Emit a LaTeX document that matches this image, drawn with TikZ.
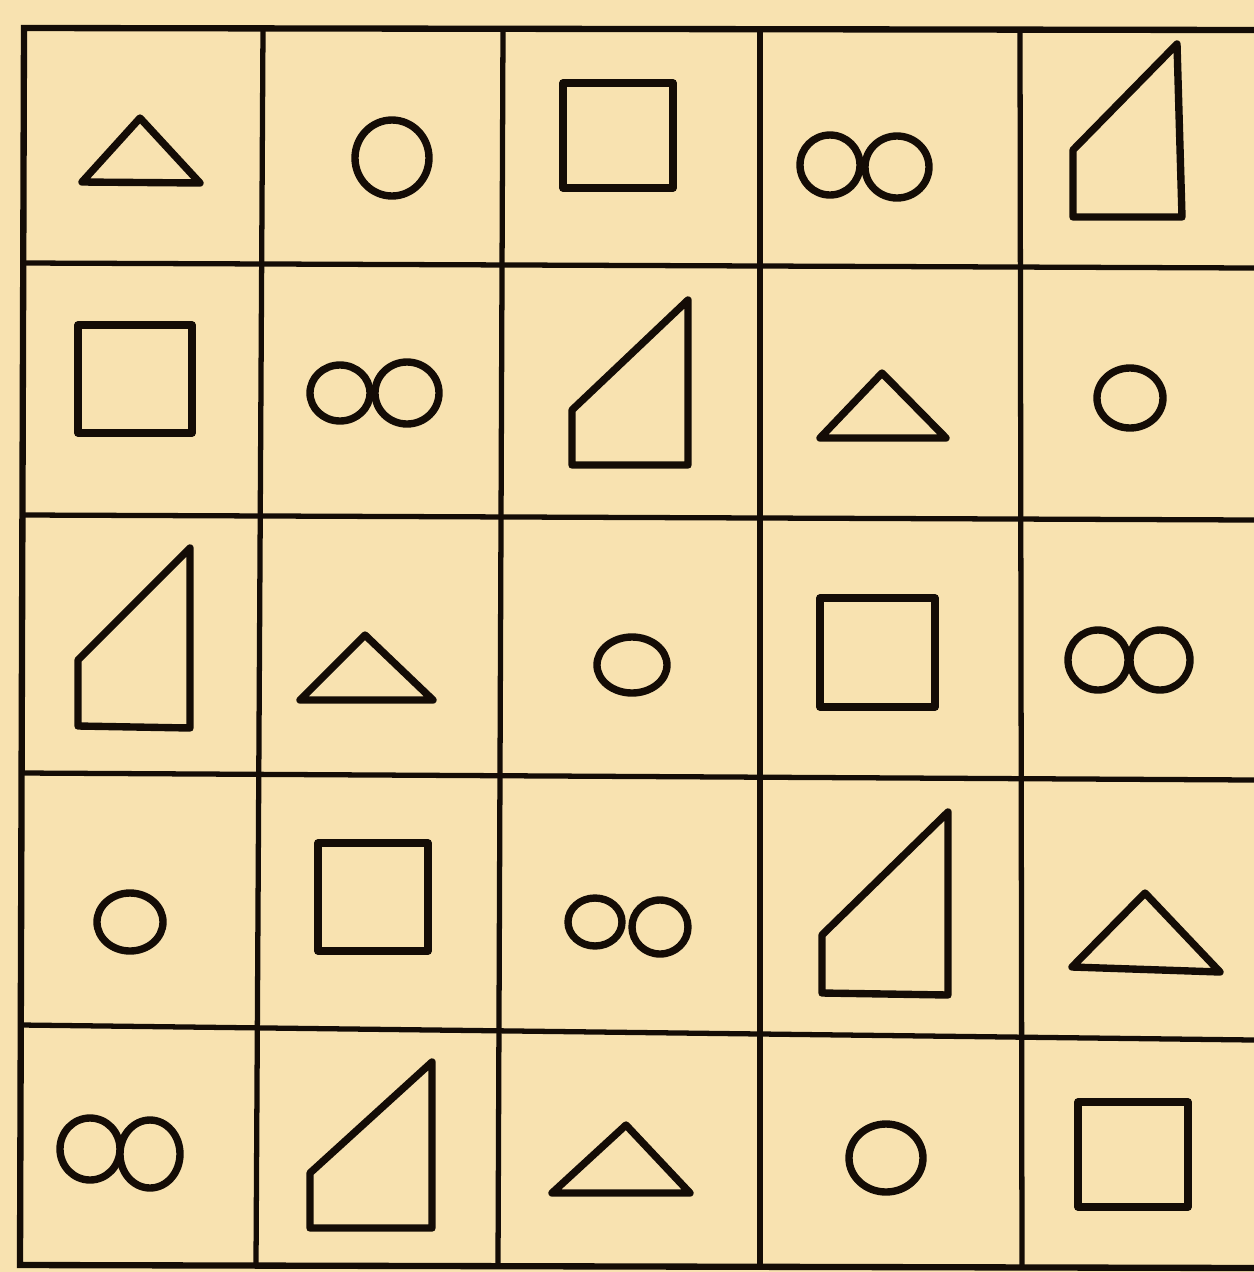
\documentclass[tikz,border=0pt]{standalone}
\usepackage{xcolor}
\definecolor{paper}{RGB}{248,226,176}
\definecolor{ink}{RGB}{20,12,6}
\tikzset{
  gridline/.style={ink, line width=3pt},
  figline/.style={ink, line width=4.2pt, line join=round, line cap=round}
}
\begin{document}
\begin{tikzpicture}[x=0.02cm, y=-0.02cm]
  % paper and grid
  \fill[paper] (0,0) rectangle (1254,1272);
  \useasboundingbox (0,0) rectangle (1254,1272);
  \draw[gridline, line width=3.6pt] (1254,30) -- (24,28) -- (20,1265) -- (1254,1268);
  \draw[gridline] (24,263) -- (1254,268);
  \draw[gridline] (24,515) -- (1254,520);
  \draw[gridline] (22,773) -- (1254,780);
  \draw[gridline] (21,1025) -- (1254,1040);
  \draw[gridline] (263,28) -- (256,1265);
  \draw[gridline] (503,28) -- (498,1265);
  \draw[gridline] (760,28) -- (760,1265);
  \draw[gridline] (1020,29) -- (1022,1266);
  % row 1
  \draw[figline] (140,118) -- (200,183) -- (82,182) -- cycle;
  \draw[figline] (392,158) ellipse (37 and 38);
  \draw[figline] (563,83) rectangle (673,188);
  \draw[figline] (830,165) ellipse (30 and 30);
  \draw[figline] (897,167) ellipse (32 and 31);
  \draw[figline] (1073,150) -- (1177,44) -- (1182,217) -- (1073,217) -- cycle;
  % row 2
  \draw[figline] (78,325) rectangle (192,433);
  \draw[figline] (340,393) ellipse (30 and 28);
  \draw[figline] (407,393) ellipse (32 and 31);
  \draw[figline] (572,410) -- (688,300) -- (688,465) -- (572,465) -- cycle;
  \draw[figline] (882,373) -- (946,438) -- (820,438) -- cycle;
  \draw[figline] (1130,398) ellipse (33 and 30);
  % row 3
  \draw[figline] (78,660) -- (190,548) -- (190,728) -- (78,726) -- cycle;
  \draw[figline] (365,635) -- (433,700) -- (300,700) -- cycle;
  \draw[figline] (632,665) ellipse (35 and 28);
  \draw[figline] (820,598) rectangle (935,707);
  \draw[figline] (1098,660) ellipse (30 and 30);
  \draw[figline] (1160,660) ellipse (30 and 30);
  % row 4
  \draw[figline] (130,922) ellipse (33 and 29);
  \draw[figline] (318,843) rectangle (428,951);
  \draw[figline] (595,922) ellipse (27 and 24);
  \draw[figline] (660,927) ellipse (28 and 27);
  \draw[figline] (822,935) -- (948,812) -- (948,995) -- (822,993) -- cycle;
  \draw[figline] (1145,893) -- (1220,972) -- (1072,967) -- cycle;
  % row 5
  \draw[figline] (90,1149) ellipse (30 and 31);
  \draw[figline] (150,1154) ellipse (30 and 34);
  \draw[figline] (310,1173) -- (432,1062) -- (432,1228) -- (310,1228) -- cycle;
  \draw[figline] (626,1125) -- (690,1193) -- (552,1193) -- cycle;
  \draw[figline] (886,1158) ellipse (37 and 34);
  \draw[figline] (1078,1102) rectangle (1188,1207);
\end{tikzpicture}
\end{document}
